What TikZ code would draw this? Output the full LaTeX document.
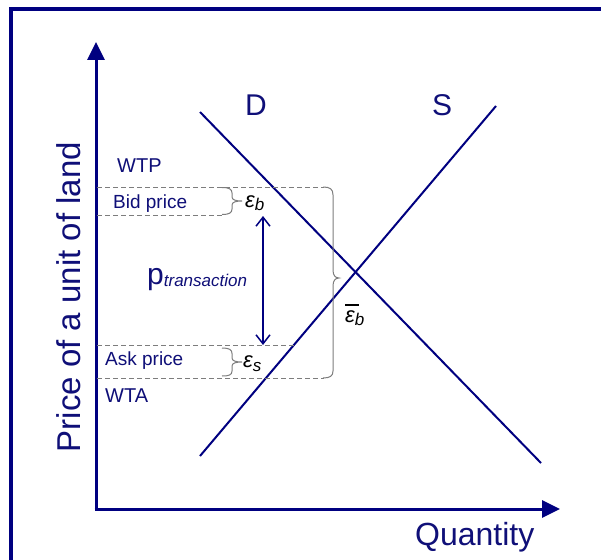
\documentclass[tikz,border=0pt]{standalone}
\usepackage{fontspec}
\setmainfont{Liberation Sans}
\usetikzlibrary{arrows.meta}
\definecolor{navy}{RGB}{0,0,128}
\definecolor{txtnavy}{RGB}{15,15,120}
\definecolor{brgray}{RGB}{125,125,125}
\newcommand{\fsz}[1]{\fontsize{#1}{#1}\selectfont}
\begin{document}
\begin{tikzpicture}[x=1pt,y=-1pt,
  axis/.style={line width=3pt,draw=navy,-{Triangle[length=18pt,width=17pt]}},
  curve/.style={line width=2pt,draw=navy},
  guide/.style={draw=brgray,line width=1pt,dash pattern=on 5pt off 3pt},
  brc/.style={draw=brgray,line width=1pt},
  lbl/.style={text=txtnavy,inner sep=0pt,anchor=base west},
  eps/.style={text=black,inner sep=0pt,anchor=base west},
]
\useasboundingbox (0,0) rectangle (601,559);
\fill[white] (0,0) rectangle (601,559);
\clip (0,0) rectangle (601,559);
% frame
\draw[navy,line width=4pt] (10.5,9.5) rectangle (640,600);
% axes
\coordinate (o) at (96,509);
\coordinate (ytop) at (96,42);
\coordinate (xend) at (560,509);
\draw[axis] (o) -- (ytop);
\draw[axis] ([xshift=-1.5pt]o) -- (xend);
% demand and supply
\coordinate (d1) at (200,112);
\coordinate (d2) at (541,463);
\coordinate (s1) at (200,456);
\coordinate (s2) at (496,106);
\draw[curve] (d1) -- (d2);
\draw[curve] (s1) -- (s2);
% guide lines
\coordinate (g1a) at (97,187);   \coordinate (g1b) at (324,187);
\coordinate (g2a) at (97,215);   \coordinate (g2b) at (223,215);
\coordinate (g3a) at (97,345.5); \coordinate (g3b) at (294,345.5);
\coordinate (g4a) at (97,378);   \coordinate (g4b) at (324,378);
\draw[guide] (g1a) -- (g1b);
\draw[guide] (g2a) -- (g2b);
\draw[guide] (g3a) -- (g3b);
\draw[guide] (g4a) -- (g4b);
% small brace eps_b
\draw[brc] (222,187.5) .. controls (229,187.5) and (232,189) .. (232,193) -- (232,197)
  .. controls (232,200) and (236,201) .. (242,201)
  .. controls (236,201) and (232,202) .. (232,205) -- (232,209)
  .. controls (232,213) and (229,214.5) .. (222,214.5);
% small brace eps_s
\draw[brc] (222,348) .. controls (229,348) and (232,349.5) .. (232,353.5) -- (232,358)
  .. controls (232,361) and (236,362) .. (242,362)
  .. controls (236,362) and (232,363) .. (232,366) -- (232,371)
  .. controls (232,375) and (229,376) .. (222,376);
% big brace
\draw[brc] (323,187) .. controls (330,187) and (333,189) .. (333,195) -- (333,270)
  .. controls (333,275) and (335,278) .. (339,278)
  .. controls (335,278) and (333,281) .. (333,286) -- (333,371)
  .. controls (333,376) and (330,378) .. (323,378);
% transaction price arrow
\coordinate (pa) at (263,216);
\coordinate (pb) at (263,345);
\draw[navy,line width=1.5pt,{Straight Barb[length=9pt,width=14pt]}-{Straight Barb[length=9pt,width=14pt]}] (pa) -- (pb);
% labels
\node[lbl,font=\fsz{30},anchor=base] (dl) at (256,115) {D};
\node[lbl,font=\fsz{30},anchor=base] (sl) at (442,115) {S};
\node[lbl,font=\fsz{20}] (wtp) at (117,172) {WTP};
\node[lbl,font=\fsz{19}] (bid) at (113,208) {Bid price};
\node[lbl,font=\fsz{19}] (ask) at (105,365) {Ask price};
\node[lbl,font=\fsz{20}] (wta) at (105,402) {WTA};
\node[lbl,font=\fsz{32}] (qty) at (415,545) {Quantity};
\node[text=txtnavy,inner sep=0pt,anchor=base,rotate=90,font=\fsz{33}] (ylab) at (80,297) {Price of a unit of land};
\node[lbl] (ptr) at (147,284) {{\fsz{30}p}{\fsz{17}\itshape\raisebox{-2pt}{transaction}}};
\node[eps] (epsb) at (245,207) {{\fsz{22}\itshape ε}{\fsz{17}\itshape\raisebox{-3pt}{b}}};
\node[eps] (epss) at (243,367) {{\fsz{22}\itshape ε}{\fsz{17}\itshape\raisebox{-4pt}{s}}};
\node[eps] (epsbar) at (345,322) {{\fsz{22}\itshape\rlap{\raisebox{16pt}{\rule{14pt}{1.8pt}}}ε}{\fsz{17}\itshape\raisebox{-3pt}{b}}};
\end{tikzpicture}
\end{document}
